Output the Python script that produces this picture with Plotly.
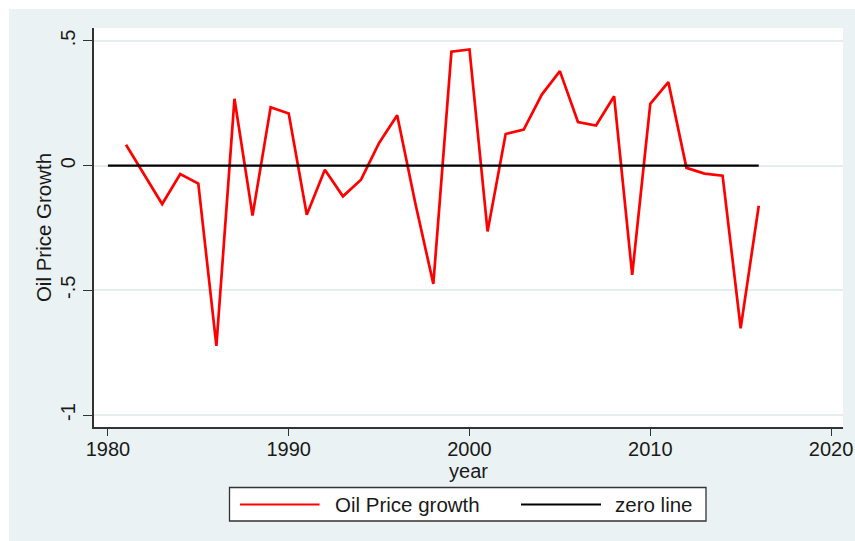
import plotly.graph_objects as go

# ---- data ----
years = list(range(1981, 2017))
oil_price_growth = [
    0.084, -0.034, -0.154, -0.034, -0.072, -0.723, 0.268, -0.200, 0.234, 0.209,
    -0.197, -0.016, -0.123, -0.056, 0.091, 0.202, -0.150, -0.474, 0.457, 0.466,
    -0.264, 0.127, 0.145, 0.285, 0.379, 0.175, 0.161, 0.278, -0.438, 0.248,
    0.335, -0.009, -0.032, -0.040, -0.652, -0.161,
]
zero_years = list(range(1980, 2017))
zero_values = [0] * len(zero_years)

x_ticks = [1980, 1990, 2000, 2010, 2020]
y_ticks = [-1, -0.5, 0, 0.5]
y_tick_labels = ["-1", "-.5", "0", ".5"]

series_names = ["Oil Price growth", "zero line"]

# ---- layout constants ----
W, H = 855, 541
L, R, T, B = 94, 843, 28, 427  # plot area in pixels
FONT = "Liberation Sans, Arial, sans-serif"
TXT = "#1a1a1a"
BG = "#EAF2F3"
TICK_SIZE = 20
TEXT_SIZE = 20.5


def px_x(px):
    return (px - L) / (R - L)


def px_y(py):
    return (B - py) / (B - T)


fig = go.Figure()
fig.add_trace(go.Scatter(x=years, y=oil_price_growth, mode="lines",
                         name=series_names[0],
                         line=dict(color="#FF0000", width=2.7)))
fig.add_trace(go.Scatter(x=zero_years, y=zero_values, mode="lines",
                         name=series_names[1],
                         line=dict(color="#000000", width=2.2)))

shapes = []
# white border strips on top and left of the outer region
shapes.append(dict(type="rect", xref="paper", yref="paper",
                   x0=px_x(-5), x1=px_x(9), y0=px_y(H + 5), y1=px_y(-5),
                   fillcolor="white", line=dict(width=0), layer="below"))
shapes.append(dict(type="rect", xref="paper", yref="paper",
                   x0=px_x(-5), x1=px_x(W + 5), y0=px_y(9), y1=px_y(-5),
                   fillcolor="white", line=dict(width=0), layer="below"))

# legend box
shapes.append(dict(type="rect", xref="paper", yref="paper",
                   x0=px_x(229.5), x1=px_x(706), y0=px_y(521), y1=px_y(487.5),
                   fillcolor="white", line=dict(color="#333333", width=1.3)))
shapes.append(dict(type="line", xref="paper", yref="paper",
                   x0=px_x(240), x1=px_x(319.5), y0=px_y(504.5), y1=px_y(504.5),
                   line=dict(color="#FF0000", width=2.2)))
shapes.append(dict(type="line", xref="paper", yref="paper",
                   x0=px_x(521), x1=px_x(601), y0=px_y(504.5), y1=px_y(504.5),
                   line=dict(color="#000000", width=2.2)))

annotations = [
    dict(xref="paper", yref="paper", x=px_x(333), y=px_y(504),
         xanchor="left", yanchor="middle", showarrow=False,
         text=series_names[0], font=dict(family=FONT, size=TEXT_SIZE, color=TXT)),
    dict(xref="paper", yref="paper", x=px_x(613), y=px_y(504),
         xanchor="left", yanchor="middle", showarrow=False,
         text=series_names[1], font=dict(family=FONT, size=TEXT_SIZE, color=TXT)),
]

fig.update_layout(
    width=W, height=H,
    margin=dict(l=L, r=W - R, t=T, b=H - B, pad=0, autoexpand=False),
    paper_bgcolor=BG,
    plot_bgcolor="white",
    showlegend=False,
    font=dict(family=FONT, size=TICK_SIZE, color=TXT),
    shapes=shapes,
    annotations=annotations,
    xaxis=dict(
        range=[1979.23, 2020.66],
        tickmode="array", tickvals=x_ticks,
        ticks="outside", ticklen=7, tickwidth=1.3, tickcolor="#333333",
        showline=True, linecolor="#333333", linewidth=1.6,
        showgrid=False, zeroline=False, automargin=False,
        ticklabelstandoff=-4,
        tickfont=dict(family=FONT, size=TICK_SIZE, color=TXT),
        title=dict(text="year", standoff=0,
                   font=dict(family=FONT, size=TICK_SIZE, color=TXT)),
    ),
    yaxis=dict(
        range=[-1.048, 0.552],
        tickmode="array", tickvals=y_ticks, ticktext=y_tick_labels,
        tickangle=-90,
        ticks="outside", ticklen=9, tickwidth=1.3, tickcolor="#333333",
        showline=True, linecolor="#333333", linewidth=1.6,
        showgrid=True, gridcolor="#E4EEEF", gridwidth=1.5,
        zeroline=False, automargin=False,
        tickfont=dict(family=FONT, size=TICK_SIZE, color=TXT),
        title=dict(text="Oil Price Growth", standoff=0,
                   font=dict(family=FONT, size=TEXT_SIZE, color=TXT)),
    ),
)

fig.write_html(
    "out.html",
    config={"displayModeBar": False},
    post_script="document.body.style.margin='0';document.body.style.padding='0';",
)
